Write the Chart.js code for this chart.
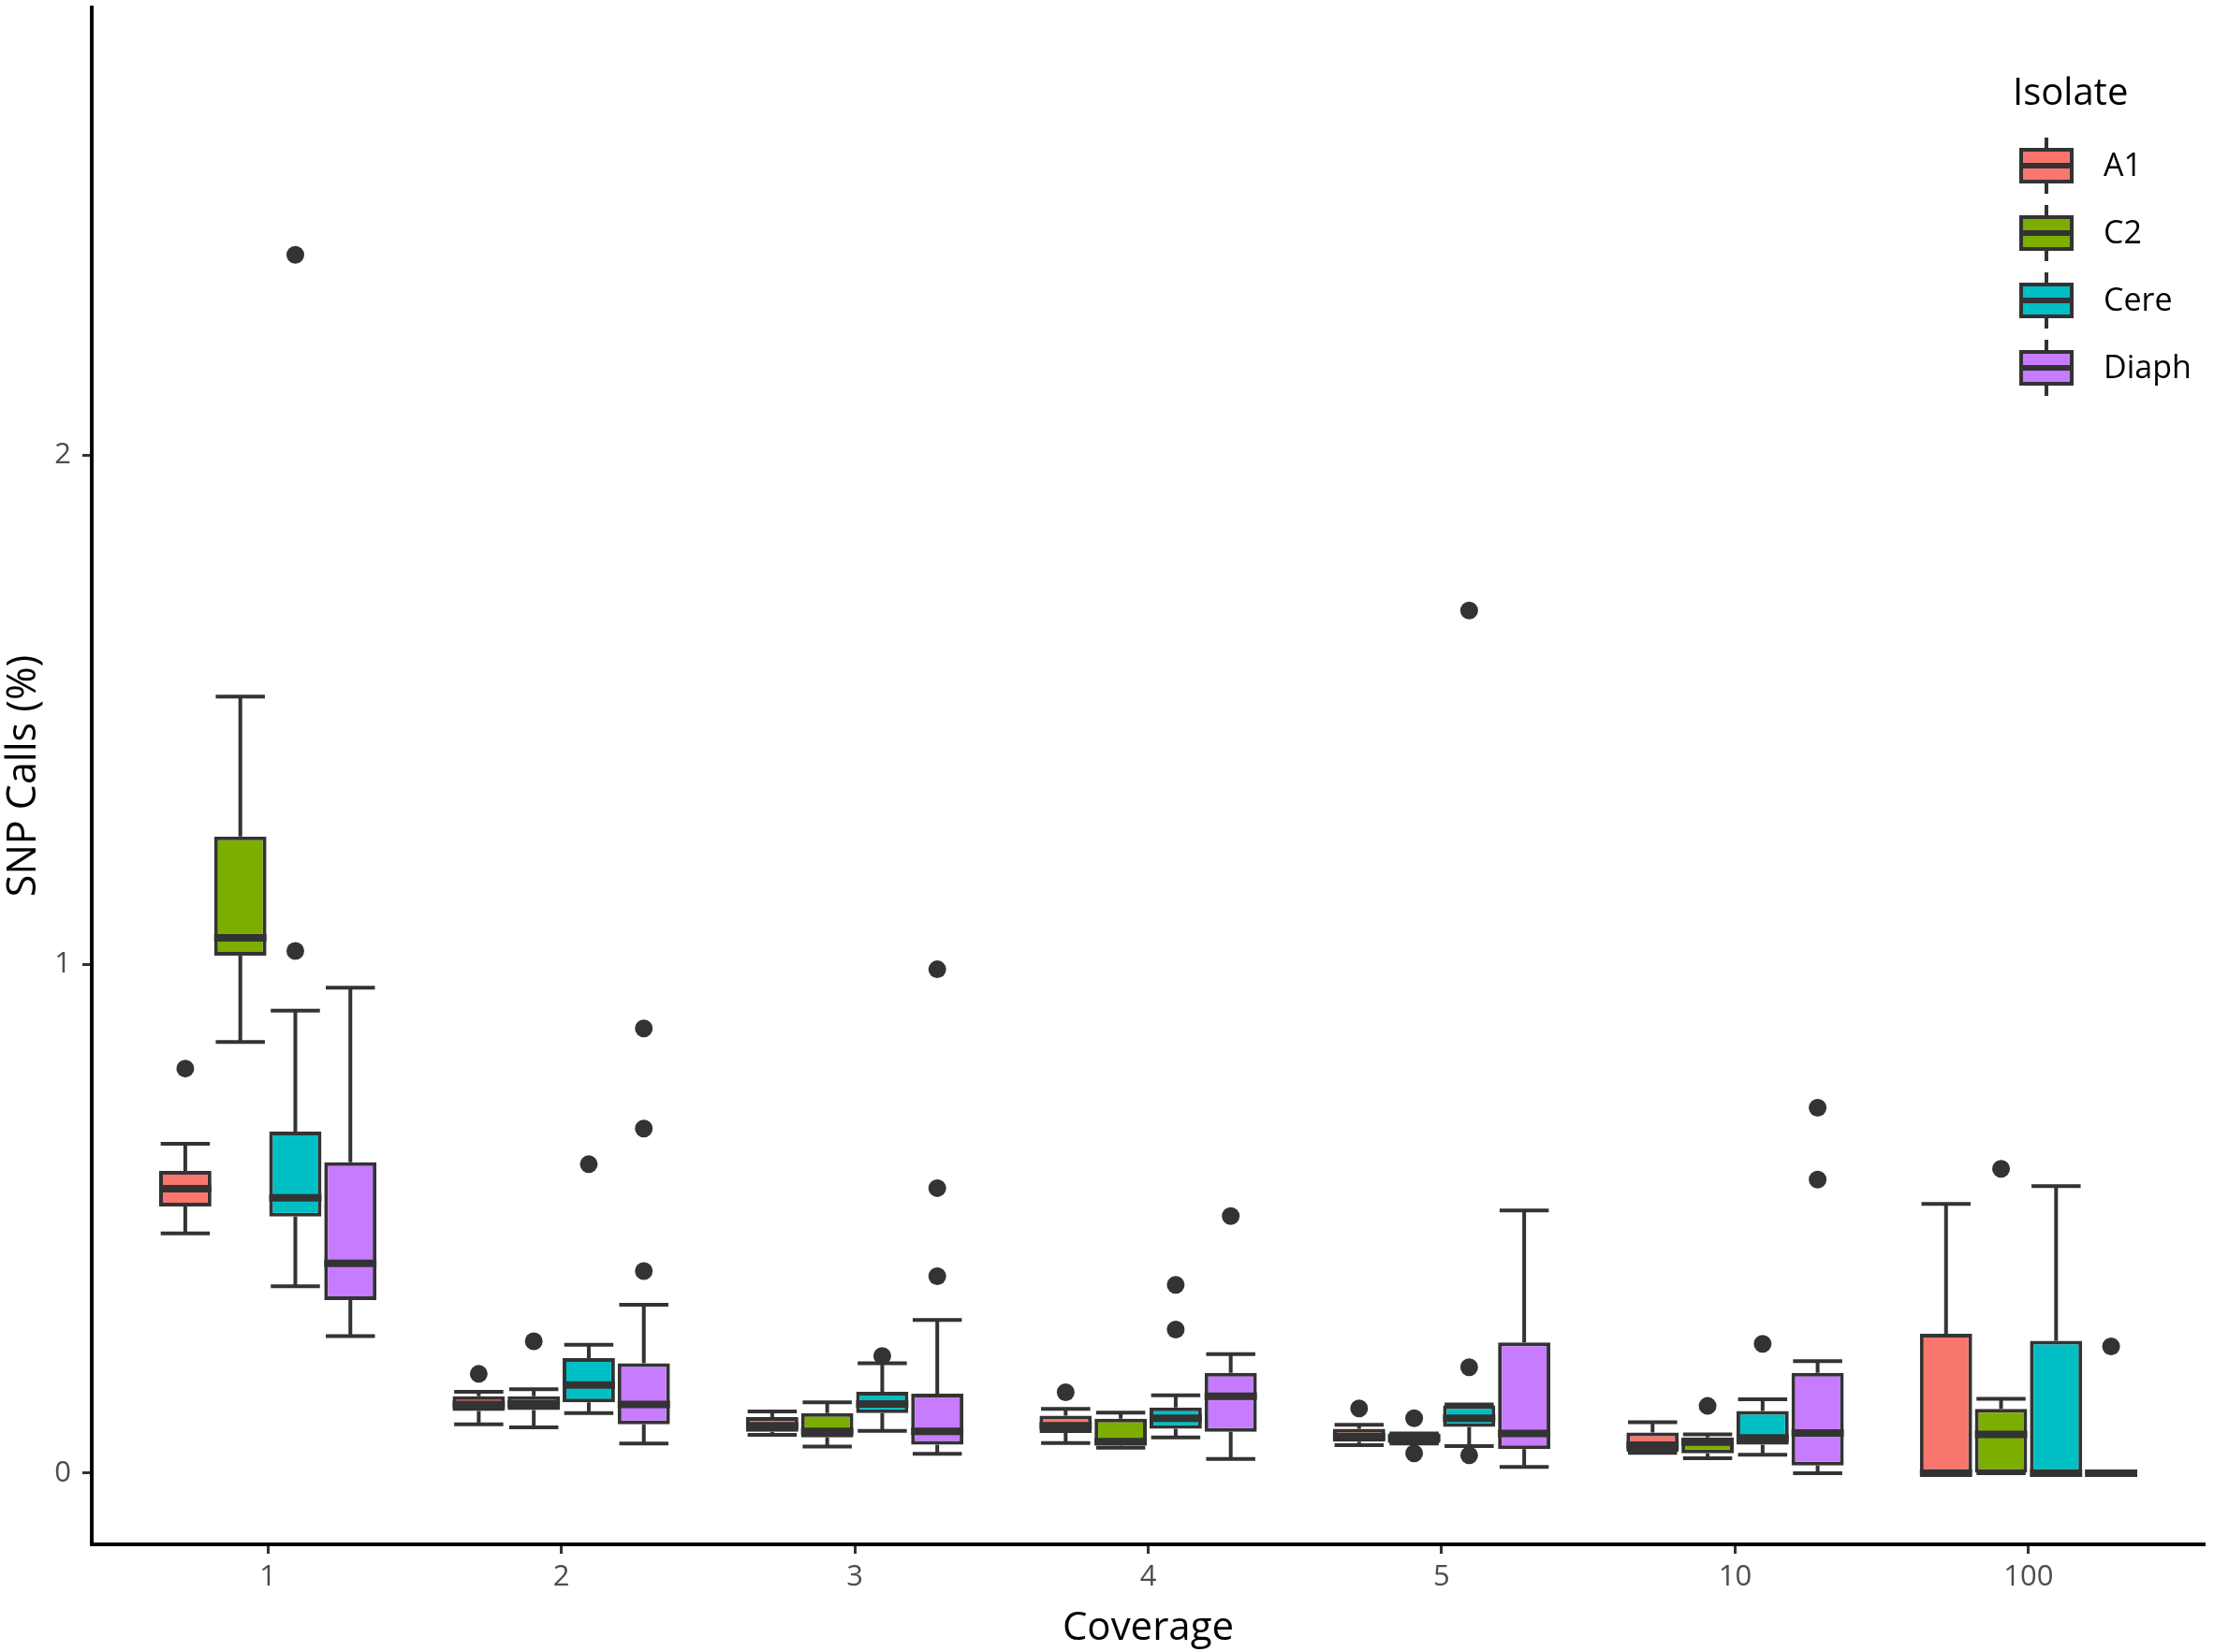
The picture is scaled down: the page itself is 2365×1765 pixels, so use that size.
<!DOCTYPE html>
<html>
<head>
<meta charset="utf-8">
<script src="https://cdn.jsdelivr.net/npm/chart.js@4"></script>
<style>
  body { margin: 0; background: #fff; }
  #wrap { position: relative; width: 2365px; height: 1765px; }
  #legend { position: absolute; left: 2150px; top: 70px; font-family: 'Open Sans', sans-serif; color: #000; }
  #legend .title { font-size: 40px; line-height: 54px; margin-bottom: 20px; }
  #legend .row { position: relative; height: 72px; }
  #legend .whisk { position: absolute; left: 34px; top: 3px; width: 4px; height: 60px; background: #333; }
  #legend .box { position: absolute; left: 7px; top: 14px; width: 58px; height: 38px; box-sizing: border-box; border: 4px solid #333; }
  #legend .med { position: absolute; left: 0; right: 0; top: 12px; height: 6px; background: #333; }
  #legend .lab { position: absolute; left: 97px; top: 7px; font-size: 34px; line-height: 48px; }
</style>
</head>
<body>
<div id="wrap">
  <canvas id="chart" width="2365" height="1765"></canvas>
  <div id="legend"></div>
</div>
<script>
'use strict';

const coverage = ['1', '2', '3', '4', '5', '10', '100'];
const isolates = ['A1', 'C2', 'Cere', 'Diaph'];

// [lower whisker, Q1, median, Q3, upper whisker] per coverage
const a1Stats = [
    [0.471, 0.524, 0.559, 0.594, 0.647],
    [0.096, 0.122, 0.135, 0.151, 0.160],
    [0.075, 0.081, 0.093, 0.110, 0.121],
    [0.059, 0.079, 0.093, 0.113, 0.126],
    [0.055, 0.062, 0.072, 0.087, 0.095],
    [0.040, 0.042, 0.055, 0.080, 0.100],
    [0, 0, 0, 0.274, 0.529]
];
const c2Stats = [
    [0.847, 1.017, 1.052, 1.251, 1.526],
    [0.090, 0.124, 0.136, 0.151, 0.165],
    [0.052, 0.070, 0.082, 0.118, 0.139],
    [0.050, 0.054, 0.062, 0.107, 0.119],
    [0.058, 0.059, 0.069, 0.078, 0.078],
    [0.029, 0.039, 0.061, 0.070, 0.076],
    [0, 0, 0.076, 0.126, 0.146]
];
const cereStats = [
    [0.367, 0.504, 0.541, 0.671, 0.909],
    [0.118, 0.139, 0.173, 0.226, 0.252],
    [0.083, 0.118, 0.136, 0.160, 0.216],
    [0.070, 0.087, 0.108, 0.129, 0.153],
    [0.053, 0.091, 0.108, 0.133, 0.135],
    [0.036, 0.056, 0.069, 0.122, 0.145],
    [0, 0, 0, 0.260, 0.564]
];
const diaphStats = [
    [0.269, 0.340, 0.412, 0.611, 0.954],
    [0.058, 0.096, 0.135, 0.216, 0.331],
    [0.038, 0.056, 0.082, 0.156, 0.301],
    [0.028, 0.081, 0.151, 0.197, 0.234],
    [0.012, 0.047, 0.078, 0.257, 0.516],
    [0, 0.015, 0.079, 0.197, 0.220],
    [0, 0, 0, 0, 0]
];

// outliers per coverage
const a1Out = [[0.795], [0.195], [], [0.159], [0.127], [], []];
const c2Out = [[], [0.259], [], [], [0.108, 0.039], [0.132], [0.598]];
const cereOut = [[2.394, 1.026], [0.607], [0.230], [0.370, 0.282], [1.695, 0.208, 0.035], [0.254], []];
const diaphOut = [[], [0.874, 0.677, 0.397], [0.990, 0.560, 0.387], [0.505], [], [0.718, 0.577], [0.249]];

const yTicks = [0, 1, 2];

const stats = [a1Stats, c2Stats, cereStats, diaphStats];
const outliers = [a1Out, c2Out, cereOut, diaphOut];
const fills = ['#F8766D', '#7CAE00', '#00BFC4', '#C77CFF'];
const ink = '#333333';

Chart.defaults.font.family = "'Open Sans', sans-serif";

// whiskers under the boxes, medians and outliers on top
const boxParts = {
    id: 'boxParts',
    beforeDatasetsDraw(chart) {
        const ctx = chart.ctx;
        const y = chart.scales.y;
        ctx.save();
        ctx.strokeStyle = ink;
        ctx.lineWidth = 4;
        ctx.lineCap = 'butt';
        stats.forEach((s, d) => {
            chart.getDatasetMeta(d).data.forEach((bar, i) => {
                const [lo, q1, , q3, hi] = s[i];
                const cap = bar.width * 0.47;
                ctx.beginPath();
                ctx.moveTo(bar.x, y.getPixelForValue(hi));
                ctx.lineTo(bar.x, y.getPixelForValue(q3));
                ctx.moveTo(bar.x, y.getPixelForValue(q1));
                ctx.lineTo(bar.x, y.getPixelForValue(lo));
                ctx.moveTo(bar.x - cap, y.getPixelForValue(hi));
                ctx.lineTo(bar.x + cap, y.getPixelForValue(hi));
                ctx.moveTo(bar.x - cap, y.getPixelForValue(lo));
                ctx.lineTo(bar.x + cap, y.getPixelForValue(lo));
                ctx.stroke();
            });
        });
        ctx.restore();
    },
    afterDatasetsDraw(chart) {
        const ctx = chart.ctx;
        const y = chart.scales.y;
        ctx.save();
        ctx.strokeStyle = ink;
        ctx.fillStyle = ink;
        ctx.lineWidth = 8;
        stats.forEach((s, d) => {
            chart.getDatasetMeta(d).data.forEach((bar, i) => {
                const half = bar.width / 2;
                const my = y.getPixelForValue(s[i][2]);
                ctx.beginPath();
                ctx.moveTo(bar.x - half, my);
                ctx.lineTo(bar.x + half, my);
                ctx.stroke();
                outliers[d][i].forEach(v => {
                    ctx.beginPath();
                    ctx.arc(bar.x, y.getPixelForValue(v), 9.5, 0, Math.PI * 2);
                    ctx.fill();
                });
            });
        });
        ctx.restore();
    }
};

const datasets = isolates.map((name, d) => ({
    label: name,
    data: stats[d].map((s, i) => ({ x: i, y: [s[1], s[3]] })),
    backgroundColor: fills[d],
    borderColor: ink,
    borderWidth: 4,
    borderSkipped: false,
    categoryPercentage: 0.75,
    barPercentage: 0.95
}));

new Chart(document.getElementById('chart').getContext('2d'), {
    type: 'bar',
    data: { datasets },
    options: {
        responsive: false,
        devicePixelRatio: 1,
        animation: false,
        layout: { padding: { top: 8, right: 10, left: 0, bottom: 0 } },
        plugins: { legend: { display: false }, tooltip: { enabled: false } },
        scales: {
            x: {
                type: 'linear',
                offset: false,
                min: -0.6,
                max: 6.6,
                afterBuildTicks: scale => { scale.ticks = coverage.map((c, i) => ({ value: i })); },
                afterFit: scale => { scale.height = 115; scale.paddingLeft = 0; scale.paddingRight = 0; },
                ticks: {
                    autoSkip: false,
                    maxRotation: 0,
                    padding: 7,
                    color: '#4d4d4d',
                    font: { size: 31 },
                    callback: v => coverage[v]
                },
                grid: { offset: false, drawOnChartArea: false, tickLength: 10, tickWidth: 3, tickColor: ink },
                border: { display: true, color: '#000', width: 4 },
                title: { display: true, text: 'Coverage', color: '#000', font: { size: 42 }, padding: { top: 0, bottom: 0 } }
            },
            y: {
                min: -0.14,
                max: 2.88,
                afterBuildTicks: scale => { scale.ticks = yTicks.map(v => ({ value: v })); },
                afterFit: scale => { scale.width = 98; scale.paddingTop = 0; scale.paddingBottom = 0; },
                ticks: { padding: 12, color: '#4d4d4d', font: { size: 31 } },
                grid: { drawOnChartArea: false, tickLength: 10, tickWidth: 3, tickColor: ink },
                border: { display: true, color: '#000', width: 4 },
                title: { display: true, text: 'SNP Calls (%)', color: '#000', font: { size: 43 }, padding: { top: 0, bottom: 0 } }
            }
        }
    },
    plugins: [boxParts]
});

// legend drawn inside the panel like the original
const legend = document.getElementById('legend');
let html = '<div class="title">Isolate</div>';
isolates.forEach((name, d) => {
    html += '<div class="row"><div class="whisk"></div>' +
        '<div class="box" style="background:' + fills[d] + '"><div class="med"></div></div>' +
        '<div class="lab">' + name + '</div></div>';
});
legend.innerHTML = html;
</script>
</body>
</html>
